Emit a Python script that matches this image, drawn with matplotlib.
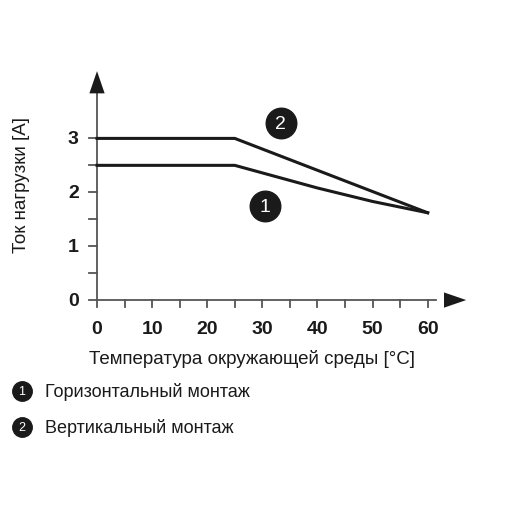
import matplotlib
matplotlib.use("Agg")
import matplotlib.pyplot as plt

x1 = [0, 25, 30, 40, 50, 60]
y1 = [2.5, 2.5, 2.36, 2.08, 1.83, 1.62]
x2 = [0, 25, 60]
y2 = [3.0, 3.0, 1.62]
xticks = [0, 10, 20, 30, 40, 50, 60]
yticks = [0, 1, 2, 3]
legend_labels = ["Горизонтальный монтаж", "Вертикальный монтаж"]

plt.rcParams['font.family'] = ['Liberation Sans', 'DejaVu Sans']
fig = plt.figure(figsize=(5.1, 5.1), dpi=100)
ax = fig.add_axes([0.147, 0.378, 0.778, 0.486])
ax.set_xlim(-4, 68)
ax.set_ylim(-0.3, 4.3)
ax.axis('off')
c = '#1a1a1a'
ax.plot([-1.5, 61.5], [0, 0], color='#555', lw=1.3)
ax.plot([0, 0], [-0.12, 3.9], color='#555', lw=1.3)
ax.annotate('', xy=(67.5, 0), xytext=(61, 0),
            arrowprops=dict(arrowstyle='-|>,head_length=1.6,head_width=0.55', color=c, lw=0))
ax.annotate('', xy=(0, 4.3), xytext=(0, 3.8),
            arrowprops=dict(arrowstyle='-|>,head_length=1.6,head_width=0.55', color=c, lw=0))
for t in range(5, 61, 5):
    ax.plot([t, t], [0, -0.12], color='#555', lw=1.3)
for v in [0.5, 1, 1.5, 2, 2.5, 3]:
    ax.plot([0, -1.5], [v, v], color='#555', lw=1.3)
for t in xticks:
    ax.text(t, -0.52, str(t), ha='center', va='center', fontsize=14, fontweight='bold', color=c)
for v in yticks:
    ax.text(-4.3, v, str(v), ha='center', va='center', fontsize=14, fontweight='bold', color=c)

ax.plot(x1, y1, color=c, lw=2.2)
ax.plot(x2, y2, color=c, lw=2.2)
for (xx, yy, s) in [(30.4, 1.74, '1'), (33.3, 3.28, '2')]:
    ax.plot(xx, yy, 'o', ms=22, color=c)
    ax.text(xx, yy, s, color='white', ha='center', va='center', fontsize=14)

fig.text(0.043, 0.637, 'Ток нагрузки [A]', rotation=90, ha='center', va='center', fontsize=13.5, color=c)
fig.text(0.174, 0.296, 'Температура окружающей среды [°C]', ha='left', va='center', fontsize=13.5, color=c)
for i, (lab, yy) in enumerate(zip(legend_labels, [0.231, 0.161])):
    fig.add_artist(plt.Line2D([0.043], [yy], marker='o', ms=14, color=c, transform=fig.transFigure))
    fig.text(0.043, yy, str(i + 1), ha='center', va='center', fontsize=9, color='white')
    fig.text(0.088, yy, lab, ha='left', va='center', fontsize=13, color=c)

fig.savefig('out.png', dpi=100, facecolor='white')
